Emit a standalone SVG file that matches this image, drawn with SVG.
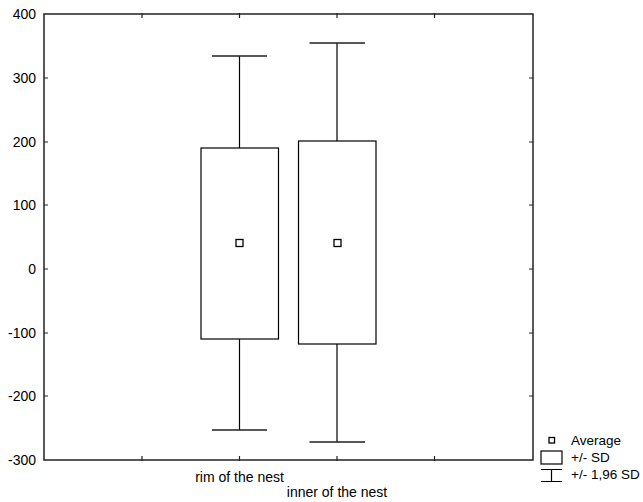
<svg xmlns="http://www.w3.org/2000/svg" width="643" height="502" viewBox="0 0 643 502">
<style>
text{font-family:"Liberation Sans",Arial,sans-serif;font-size:14px;fill:#000}
.ax{text-anchor:end}
.lb{text-anchor:middle}
.lg{font-size:13.5px}
.frame{fill:none;stroke:#222;stroke-width:1.5}
.tick{stroke:#222;stroke-width:1.2}
.box{fill:#fff;stroke:#000;stroke-width:1.2}
.wh{stroke:#000;stroke-width:1.2;fill:none}
.cap{stroke:#222;stroke-width:1.4}
.mean{fill:#fff;stroke:#000;stroke-width:1.3}
</style>
<rect width="643" height="502" fill="#fff"/>
<g id="axes">
<rect class="frame" x="44" y="14" width="489" height="446"/>
<g class="tick">
<path d="M44 78H48M44 142H48M44 205H48M44 269H48M44 333H48M44 396H48"/>
<path d="M533 78H529M533 142H529M533 205H529M533 269H529M533 333H529M533 396H529"/>
<path d="M142 13V18M239.5 13V18M337 13V18M434.5 13V18"/>
<path d="M142 461V456M239.5 461V456M337 461V456M434.5 461V456"/>
</g>
<g class="ax">
<text x="36" y="19">400</text>
<text x="36" y="83">300</text>
<text x="36" y="147">200</text>
<text x="36" y="210">100</text>
<text x="36" y="274">0</text>
<text x="36" y="338">-100</text>
<text x="36" y="401">-200</text>
<text x="36" y="465">-300</text>
</g>
<g class="lb">
<text x="239.5" y="482">rim of the nest</text>
<text x="337" y="497">inner of the nest</text>
</g>
</g>
<g id="rim">
<path class="wh" d="M239.5 56V148M239.5 339V430"/>
<path class="cap" d="M212 56H267M212 430H267"/>
<rect class="box" x="201" y="148" width="77.5" height="191"/>
<rect class="mean" x="236" y="239.5" width="7" height="7"/>
</g>
<g id="inner">
<path class="wh" d="M337 43V141M337 344V442"/>
<path class="cap" d="M309.5 43H365M309.5 442H365"/>
<rect class="box" x="298.5" y="141" width="77.5" height="203"/>
<rect class="mean" x="334" y="239.5" width="7" height="7"/>
</g>
<g id="legend">
<rect class="mean" x="549" y="437.5" width="5.5" height="5.5"/>
<text class="lg" x="571" y="445">Average</text>
<rect class="box" x="541" y="451" width="21" height="13"/>
<text class="lg" x="571" y="462">+/- SD</text>
<path class="wh" d="M541 469.5H562M551.5 469.5V481.5M541 481.5H562"/>
<text class="lg" x="571" y="479">+/- 1,96 SD</text>
</g>
</svg>
